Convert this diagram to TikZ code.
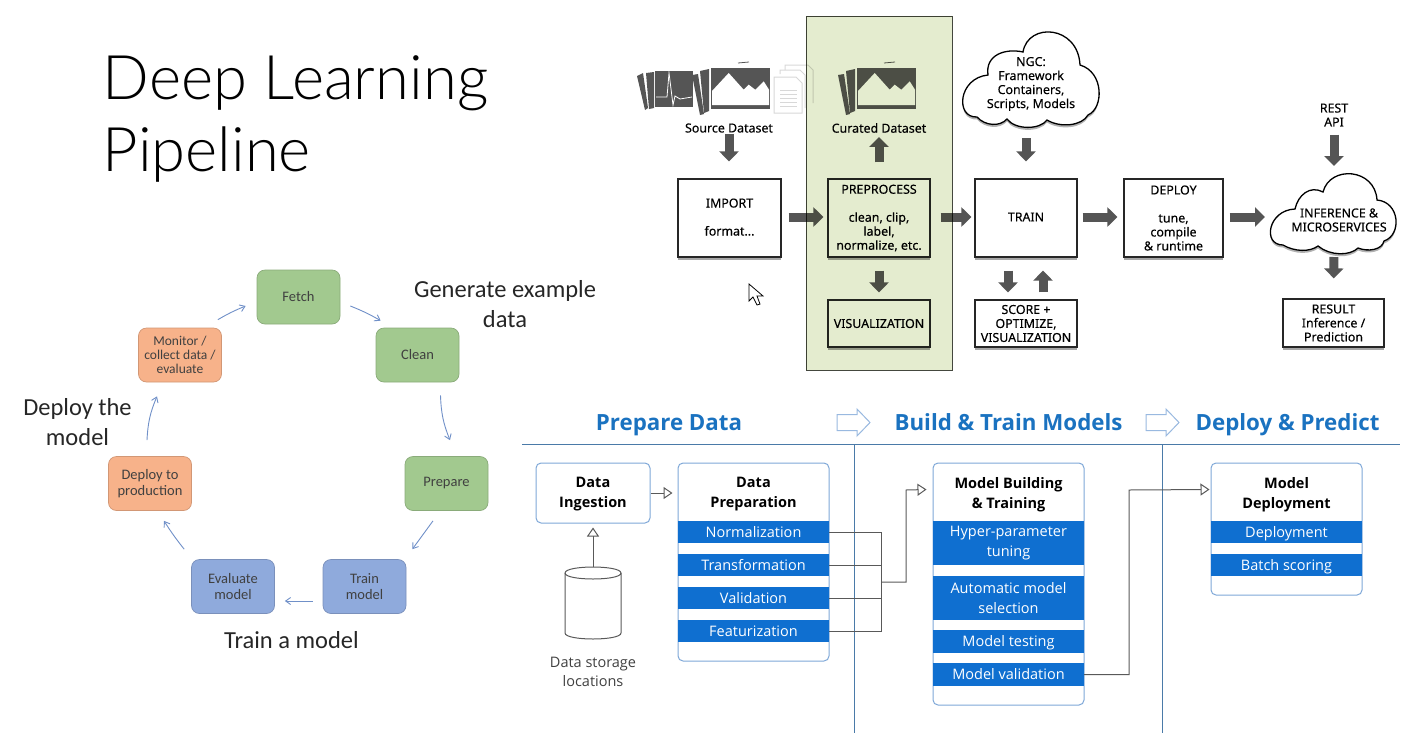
\documentclass[tikz,border=0pt]{standalone}
\usepackage{fontspec}
\usepackage{tikz}
\usetikzlibrary{arrows.meta,shadows}
\newfontfamily\titlefont{Carlito}
\newfontfamily\lighttitle{Lato}[UprightFont=* Light]
\newfontfamily\flowfont{Noto Sans}[FakeBold=0.25,UprightFeatures={FakeBold=0.25}]
\newfontfamily\azurefont{Open Sans}
\definecolor{azure}{HTML}{0F6FD0}
\definecolor{azurehead}{HTML}{1A72C0}
\definecolor{azureline}{HTML}{7FA8D8}
\definecolor{rulecol}{HTML}{4A7AA8}
\definecolor{blockcol}{HTML}{555555}
\definecolor{panelcol}{HTML}{E4ECCF}
\definecolor{iconcol}{HTML}{D8D8D8}
\newcommand{\stackphoto}[2]{%
    \begin{scope}[shift={(#1,#2)}]
        \fill[blockcol] (-19,7)--(-13,6)--(-7,46)--(-11,47)--cycle;
        \fill[blockcol] (-11,3)--(-2,1)--(-2,43)--(-7,45)--cycle;
        \draw[blockcol,line width=.8pt] (27,-5)--(38,-6);
        \fill[blockcol] (0,0) rectangle (59,41);
        \fill[white] (1,37)--(1,23)--(17.7,5)--(32.7,21.7)--(37.7,16.7)--(44.3,21.7)--(52.7,13.3)--(58,21.7)--(58,37)--cycle;
    \end{scope}}
\tikzset{
    flowbox/.style={draw=black!85,line width=1.2pt,fill=white,align=center,inner sep=0pt,
        font=\flowfont\fontsize{12.4}{14}\selectfont,
        drop shadow={shadow xshift=0pt,shadow yshift=-2.5pt,opacity=.35,fill=black}},
    flowtext/.style={align=center,inner sep=1pt,font=\flowfont\fontsize{12.4}{14}\selectfont},
    blockarrow/.style={draw=blockcol,line width=9pt,-{Triangle[width=19pt,length=10pt]}},
    cloudline/.style={draw=black,line width=1.3pt,fill=white,
        drop shadow={shadow xshift=0pt,shadow yshift=-2.5pt,opacity=.3,fill=black}},
    stagebox/.style={draw=#1!85!black,fill=#1,rounded corners=8pt,line width=.7pt,align=center,inner sep=0pt,
        minimum width=83pt,minimum height=54pt,text=black!75,
        font=\titlefont\fontsize{14.5}{16}\selectfont},
    cycleline/.style={draw=cyclecol,line width=.9pt,-{Straight Barb[length=5pt,width=7pt]}},
    saytext/.style={align=center,inner sep=0pt,font=\titlefont\fontsize{24.5}{30}\selectfont,text=black!85},
    azurebox/.style={draw=azureline,line width=1pt,fill=white,rounded corners=5pt,minimum width=151pt,inner sep=0pt},
    azuretitle/.style={align=center,inner sep=0pt,font=\azurefont\bfseries\fontsize{14.5}{20}\selectfont},
    azurebar/.style={fill=azure,text=white,align=center,inner sep=0pt,minimum width=151pt,minimum height=#1,
        font=\azurefont\fontsize{14.5}{20}\selectfont},
    azurebar/.default=22pt,
    oneline/.style={text height=10.5pt,text depth=.5pt},
    headtext/.style={anchor=base,inner sep=0pt,text=azurehead,font=\azurefont\bfseries\fontsize{22.3}{26}\selectfont},
    elbowline/.style={draw=black!65,line width=1pt},
    hollowtip/.style={elbowline,-{Triangle[open,length=9pt,width=12pt]}}
}
\definecolor{cyclecol}{HTML}{7090C8}
\definecolor{fetchgreen}{HTML}{A2C98F}
\definecolor{deployorange}{HTML}{F7B28A}
\definecolor{trainblue}{HTML}{8FAADC}
\begin{document}
\begin{tikzpicture}[x=1pt,y=-1pt]
    \useasboundingbox (0,0) rectangle (1415,742);
    % title
    \node(title) at (295.5,119) [align=left,inner sep=0pt,font=\lighttitle\fontsize{61.5}{72}\selectfont] {Deep Learning\\Pipeline};

    % cycle
    \node(fetch)[stagebox=fetchgreen] at (298.5,297) {Fetch};
    \node(clean)[stagebox=fetchgreen] at (417.5,355) {Clean};
    \node(prepare)[stagebox=fetchgreen] at (446.5,483.5) {Prepare};
    \node(trainm)[stagebox=trainblue] at (364.5,586.5) {Train\\model};
    \node(evalm)[stagebox=trainblue] at (233,586.5) {Evaluate\\model};
    \node(prod)[stagebox=deployorange] at (150,483.5) {Deploy to\\production};
    \node(monitor)[stagebox=deployorange,font=\titlefont\fontsize{13.5}{14}\selectfont] at (180,355) {Monitor /\\collect data /\\evaluate};
    \draw[cycleline] ([xshift=10pt,yshift=-9pt]fetch.east) to[bend left=4] ([xshift=5pt,yshift=7pt]clean.north west);
    \draw[cycleline] ([xshift=23pt,yshift=-13pt]clean.south) to[bend right=10] ([xshift=3.5pt,yshift=16pt]prepare.north);
    \draw[cycleline] ([xshift=-13.5pt,yshift=-10pt]prepare.south) -- ([xshift=6pt,yshift=10pt]trainm.north east);
    \draw[cycleline] ([xshift=-10pt,yshift=-14.5pt]trainm.west) -- ([xshift=10pt,yshift=-14.5pt]evalm.east);
    \draw[cycleline] ([xshift=-7pt,yshift=10pt]evalm.north west) to[bend left=3] ([xshift=14pt,yshift=-10pt]prod.south);
    \draw[cycleline] ([xshift=-3pt,yshift=16pt]prod.north) to[bend left=10] ([xshift=-23pt,yshift=-14pt]monitor.south);
    \draw[cycleline] ([xshift=-4pt,yshift=8pt]monitor.north east) to[bend left=4] ([xshift=-11pt,yshift=-9pt]fetch.west);
    \node(saygen)[saytext] at (505,304) {Generate example\\data};
    \node(saydep)[saytext] at (77.5,422) {Deploy the\\model};
    \node(saytrain)[saytext] at (291.5,640) {Train a model};

    % icons
    \stackphoto{711}{68}
    \stackphoto{857}{68}
    \fill[blockcol] (637,76)--(643,73)--(648,108)--(645,110)--cycle;
    \fill[blockcol] (646,73)--(654,72)--(654,108)--(649,109)--cycle;
    \fill[blockcol] (655,71) rectangle (693,107);
    \draw[white,line width=.8pt] (656,97)--(667,97)--(669,73)--(673,105)--(675,96)--(680,99)--(692,97);
    \begin{scope}[draw=iconcol,line width=1pt]
        \draw (785,70)--(785,65)--(808,65)--(813,70)--(813,103);
        \draw (780,74)--(780,70)--(800,70)--(805,75)--(805,108);
        \draw[fill=white] (774,77)--(796,77)--(802,83)--(802,113)--(774,113)--cycle;
        \foreach \ypos in {90,94,98,102,106}
            \draw (780,\ypos)--(797,\ypos);
    \end{scope}

    % flow
    \node(source)[flowtext] at (729,128) {Source Dataset};
    \node(curated)[flowtext] at (879,128) {Curated Dataset};
    \node(import)[flowbox,minimum width=103pt,minimum height=78pt] at (729.5,218) {\raisebox{2pt}{IMPORT}\\ \\\raisebox{2pt}{format...}};
    \node(preproc)[flowbox,minimum width=102pt,minimum height=78pt] at (879,218) {PREPROCESS\\ \\clean, clip,\\label,\\normalize, etc.};
    \node(visual)[flowbox,minimum width=102pt,minimum height=47pt] at (879,323.5) {VISUALIZATION};
    \node(train)[flowbox,minimum width=102pt,minimum height=78pt] at (1026,218) {\raisebox{2pt}{TRAIN}};
    \node(score)[flowbox,minimum width=102pt,minimum height=47pt] at (1026,323.5) {SCORE +\\OPTIMIZE,\\VISUALIZATION};
    \node(deploy)[flowbox,minimum width=99pt,minimum height=78pt] at (1173.5,218) {DEPLOY\\ \\tune,\\compile\\\& runtime};
    \node(result)[flowbox,minimum width=101pt,minimum height=48pt] at (1333.5,323) {RESULT\\Inference /\\Prediction};
    \node(rest)[flowtext] at (1334,115) {REST\\API};

    % clouds
    \draw[cloudline] (988,75) .. controls (958,78) and (955,118) .. (977,117)
        .. controls (985,126) and (1000,127) .. (1007,119)
        .. controls (1015,130) and (1040,130) .. (1047,120)
        .. controls (1060,128) and (1082,126) .. (1088,115)
        .. controls (1104,108) and (1104,72) .. (1080,65)
        .. controls (1078,25) and (1028,22) .. (1023,52)
        .. controls (1005,48) and (985,55) .. cycle;
    \node(ngc)[flowtext] at (1031,84) {NGC:\\Framework\\Containers,\\Scripts, Models};
    \draw[cloudline] (1295,209) .. controls (1268,210) and (1262,245) .. (1283,245)
        .. controls (1295,252) and (1310,252) .. (1318,246)
        .. controls (1330,256) and (1350,256) .. (1358,248)
        .. controls (1368,252) and (1382,250) .. (1384,241)
        .. controls (1402,235) and (1400,202) .. (1377,200)
        .. controls (1375,168) and (1330,165) .. (1323,192)
        .. controls (1310,185) and (1298,195) .. cycle;
    \node(infer)[flowtext] at (1339,220) {INFERENCE \&\\MICROSERVICES};
    \coordinate (ngcb) at (1026,127);
    \coordinate (infw) at (1270,217);
    \coordinate (inft) at (1334,175);
    \coordinate (infb) at (1334,253);

    \begin{scope}[blockarrow]
        \draw[blockarrow,shorten >=17pt] (source.south) -- (source.south |- import.north);
        \draw[blockarrow,shorten <=16pt,shorten >=3pt] (preproc.north) -- (curated.south);
        \draw[blockarrow,shorten <=11pt,shorten >=17pt] (ngcb) -- (train.north);
        \draw[blockarrow,shorten <=7pt,shorten >=4pt] ([yshift=1pt]import.east) -- ([yshift=1pt]preproc.west);
        \draw[blockarrow,shorten <=10pt,shorten >=3pt] ([yshift=1pt]preproc.east) -- ([yshift=1pt]train.west);
        \draw[blockarrow,shorten <=5pt,shorten >=6pt] ([yshift=1pt]train.east) -- ([yshift=1pt]deploy.west);
        \draw[blockarrow,shorten <=6pt,shorten >=5pt] ([yshift=1pt]deploy.east) -- (infw);
        \draw[blockarrow,shorten <=13pt,shorten >=7pt] (preproc.south) -- (visual.north);
        \draw[blockarrow,shorten <=13pt,shorten >=7pt] ([xshift=-18pt]train.south) -- ([xshift=-18pt]score.north);
        \draw[blockarrow,shorten <=7pt,shorten >=13pt] ([xshift=17pt]score.north) -- ([xshift=17pt]train.south);
        \draw[blockarrow,shorten <=7pt,shorten >=9pt] (rest.south) -- (inft);
        \draw[blockarrow,shorten <=4pt,shorten >=20pt] (infb) -- (result.north);
    \end{scope}

    % cursor
    \draw[fill=white,line width=.8pt] (749,284)--(749,301)--(753,297)--(757,305)--(760,304)--(757,296)--(763,296)--cycle;

    % panel goes over what it tints
    \node(panel)[draw=black!70!panelcol,line width=1pt,fill=panelcol,blend mode=multiply,minimum width=146pt,minimum height=354pt,inner sep=0pt] at (879,193) {};

    % azure part
    \node(headprep)[headtext] at (669,430) {Prepare Data};
    \node(headbuild)[headtext] at (1008.5,430) {Build \& Train Models};
    \node(headdep)[headtext] at (1287.5,430) {Deploy \& Predict};
    \foreach \xpos in {837,1146}
        \draw[shift={(\xpos,422.5)},draw=azureline!80,line width=1pt,fill=white] (0,-8)--(20,-8)--(20,-13.5)--(33,0)--(20,13.5)--(20,8)--(0,8)--cycle;
    \coordinate (rulel) at (522,444);
    \coordinate (ruler) at (1400,444);
    \draw[rulecol,line width=1pt] (rulel) -- (ruler);
    \draw[rulecol,line width=1pt] (854,444) -- (854,733);
    \draw[rulecol,line width=1pt] (1162,444) -- (1162,733);

    \node(ingest)[azurebox,minimum width=114pt,minimum height=60pt] at (593,493) {};
    \node(ingesttxt)[azuretitle] at (593,494.5) {Data\\Ingestion};
    \node(prepbox)[azurebox,minimum height=198pt] at (753.5,562) {};
    \node(preptxt)[azuretitle] at (753.5,494.5) {Data\\Preparation};
    \node(barnorm)[azurebar,oneline] at (753.5,532) {Normalization};
    \node(bartrans)[azurebar,oneline] at (753.5,565) {Transformation};
    \node(barvalid)[azurebar,oneline] at (753.5,598) {Validation};
    \node(barfeat)[azurebar,oneline] at (753.5,631) {Featurization};

    \node(modelbox)[azurebox,minimum height=242pt] at (1008.5,584) {};
    \node(modeltxt)[azuretitle] at (1008.5,494.5) {Model Building\\\& Training};
    \node(barhyper)[azurebar=44pt] at (1008.5,543) {\raisebox{-2pt}{Hyper-parameter}\\\raisebox{-2pt}{tuning}};
    \node(barauto)[azurebar=44pt] at (1008.5,598) {Automatic model\\selection};
    \node(bartest)[azurebar=23pt,oneline] at (1008.5,641.5) {Model testing};
    \node(barmval)[azurebar=23pt,oneline] at (1008.5,674.5) {Model validation};

    \node(depbox)[azurebox,minimum height=132pt] at (1286.5,529) {};
    \node(deptxt)[azuretitle] at (1286.5,494.5) {Model\\Deployment};
    \node(bardep)[azurebar,oneline] at (1286.5,532) {Deployment};
    \node(barbatch)[azurebar,oneline] at (1286.5,565) {Batch scoring};

    \draw[elbowline] (565,573) .. controls (565,565) and (621,565) .. (621,573) -- (621,633) .. controls (621,641) and (565,641) .. (565,633) -- cycle;
    \draw[elbowline] (565,573) .. controls (565,581) and (621,581) .. (621,573);
    \coordinate (storetop) at (593,567);
    \node(storetxt)[inner sep=0pt,align=center,text=black!75,font=\azurefont\fontsize{14.5}{19}\selectfont] at (593,671.5) {Data storage\\locations};

    \coordinate (bus) at (881,582);
    \coordinate (busup) at (881,532);
    \coordinate (busdn) at (881,631);
    \coordinate (elbowa) at (906,582);
    \coordinate (elbowb) at (906,490);
    \coordinate (elbowc) at (1129,674.5);
    \coordinate (elbowd) at (1129,490);
    \draw[elbowline] (barnorm.east) -- (busup) -- (busdn) -- (barfeat.east);
    \draw[elbowline] (bartrans.east) -- (bartrans.east -| bus);
    \draw[elbowline] (barvalid.east) -- (barvalid.east -| bus);
    \draw[hollowtip] (bus) -- (elbowa) -- (elbowb) -- ([xshift=-6pt,yshift=-27pt]modelbox.north west);
    \draw[hollowtip] (barmval.east) -- (elbowc) -- (elbowd) -- ([xshift=-1pt,yshift=-27pt]depbox.north west);
    \draw[hollowtip] (ingest.east) -- ([xshift=-5pt]ingest.east -| prepbox.west);
    \draw[hollowtip] (storetop) -- ([yshift=-4pt]ingest.south);
\end{tikzpicture}
\end{document}
